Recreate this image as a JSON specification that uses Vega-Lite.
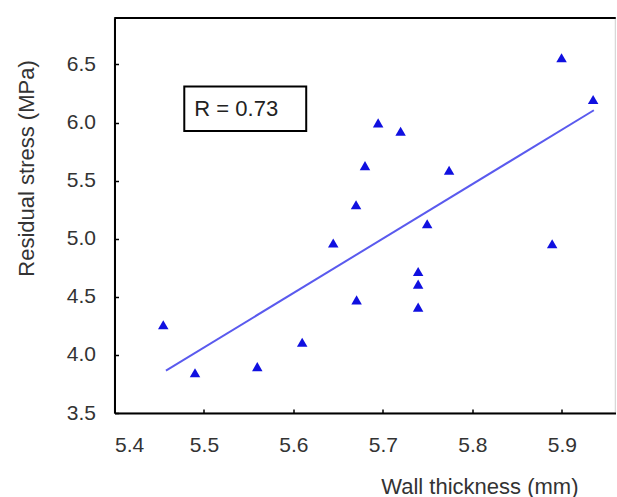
{
  "$schema": "https://vega.github.io/schema/vega-lite/v6.json",
  "width": 501,
  "height": 395,
  "autosize": {"type": "none"},
  "padding": {"left": 114.5, "top": 18, "right": 0, "bottom": 84},
  "background": "white",
  "config": {
    "view": {"stroke": "#d8d8d8", "strokeWidth": 1.5},
    "font": "Liberation Sans",
    "axis": {
      "grid": false,
      "domainColor": "black",
      "domainWidth": 2,
      "tickColor": "black",
      "tickWidth": 1.5,
      "tickSize": -4,
      "labelFont": "Liberation Sans",
      "labelFontSize": 21,
      "labelColor": "#333333",
      "titleFont": "Liberation Sans",
      "titleFontSize": 22,
      "titleFontWeight": "normal",
      "titleColor": "#333333"
    }
  },
  "datasets": {
    "pts": [
      {"thickness": 5.4545, "stress": 4.259},
      {"thickness": 5.490, "stress": 3.847},
      {"thickness": 5.5596, "stress": 3.899},
      {"thickness": 5.6098, "stress": 4.109},
      {"thickness": 5.6445, "stress": 4.963},
      {"thickness": 5.670, "stress": 5.293},
      {"thickness": 5.6706, "stress": 4.474},
      {"thickness": 5.680, "stress": 5.629},
      {"thickness": 5.6947, "stress": 5.997},
      {"thickness": 5.7198, "stress": 5.925},
      {"thickness": 5.7394, "stress": 4.718},
      {"thickness": 5.7394, "stress": 4.609},
      {"thickness": 5.7394, "stress": 4.411},
      {"thickness": 5.7495, "stress": 5.129},
      {"thickness": 5.774, "stress": 5.589},
      {"thickness": 5.8892, "stress": 4.957},
      {"thickness": 5.8997, "stress": 6.558},
      {"thickness": 5.935, "stress": 6.198}
    ],
    "fit": [
      {"thickness": 5.4575, "stress": 3.865},
      {"thickness": 5.9358, "stress": 6.106}
    ],
    "box": [
      {"x1": 5.478, "x2": 5.6143, "y1": 5.928, "y2": 6.310, "tx": 5.5361, "ty": 6.116, "label": "R = 0.73"}
    ]
  },
  "layer": [
    {
      "data": {"name": "fit"},
      "mark": {"type": "line", "color": "#5a5aee", "strokeWidth": 2},
      "encoding": {
        "x": {
          "field": "thickness", "type": "quantitative",
          "scale": {"domain": [5.4, 5.96], "nice": false, "zero": false},
          "axis": {
            "values": [5.4, 5.5, 5.6, 5.7, 5.8, 5.9],
            "format": ".1f",
            "labelPadding": 25,
            "title": "Wall thickness (mm)",
            "titleAnchor": null,
            "titleAlign": "right",
            "titleBaseline": "alphabetic",
            "titleX": 463.5,
            "titleY": 80
          }
        },
        "y": {
          "field": "stress", "type": "quantitative",
          "scale": {"domain": [3.5, 6.9], "nice": false, "zero": false},
          "axis": {
            "values": [3.5, 4.0, 4.5, 5.0, 5.5, 6.0, 6.5],
            "format": ".1f",
            "labelPadding": 23,
            "title": "Residual stress (MPa)",
            "titleAnchor": null,
            "titleAlign": "center",
            "titleAngle": -90,
            "titleBaseline": "alphabetic",
            "titleX": -81,
            "titleY": 150
          }
        }
      }
    },
    {
      "data": {"name": "fit"},
      "mark": {"type": "rule", "color": "black", "strokeWidth": 2},
      "encoding": {
        "y": {"datum": 6.9, "type": "quantitative"}
      }
    },
    {
      "data": {"name": "pts"},
      "mark": {"type": "point", "shape": "triangle-up", "filled": true, "color": "#1010e0", "opacity": 1, "size": 110},
      "encoding": {
        "x": {"field": "thickness", "type": "quantitative"},
        "y": {"field": "stress", "type": "quantitative"}
      }
    },
    {
      "data": {"name": "box"},
      "mark": {"type": "rect", "fill": "white", "stroke": "black", "strokeWidth": 2},
      "encoding": {
        "x": {"field": "x1", "type": "quantitative"},
        "x2": {"field": "x2"},
        "y": {"field": "y1", "type": "quantitative"},
        "y2": {"field": "y2"}
      }
    },
    {
      "data": {"name": "box"},
      "mark": {"type": "text", "font": "Liberation Sans", "fontSize": 22, "color": "#222222", "align": "center", "baseline": "middle"},
      "encoding": {
        "x": {"field": "tx", "type": "quantitative"},
        "y": {"field": "ty", "type": "quantitative"},
        "text": {"field": "label"}
      }
    }
  ]
}
